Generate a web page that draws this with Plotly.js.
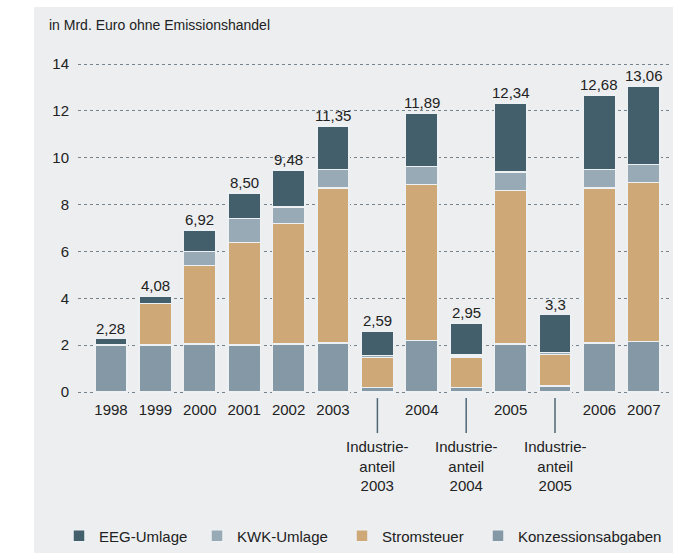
<!DOCTYPE html>
<html>
<head>
<meta charset="utf-8">
<script src="https://cdn.plot.ly/plotly-3.0.1.min.js"></script>
<style>html,body{margin:0;padding:0;background:#fff;}#chart{width:673px;height:553px;}</style>
</head>
<body>
<div id="chart"></div>
<script>
// Categories (x axis)
const categories = ["1998","1999","2000","2001","2002","2003","Industrieanteil 2003","2004","Industrieanteil 2004","2005","Industrieanteil 2005","2006","2007"];
const tickLabels = ["1998","1999","2000","2001","2002","2003","","2004","","2005","","2006","2007"];
const industrieCats = ["Industrieanteil 2003","Industrieanteil 2004","Industrieanteil 2005"];
const industrieLabels = ["Industrie-<br>anteil<br>2003","Industrie-<br>anteil<br>2004","Industrie-<br>anteil<br>2005"];

// Series values (Mrd. Euro)
const konzessionsabgaben = [2.0, 2.0, 2.05, 2.0, 2.05, 2.1, 0.2, 2.2, 0.2, 2.05, 0.25, 2.1, 2.15];
const stromsteuer        = [0, 1.78, 3.35, 4.38, 5.15, 6.6, 1.28, 6.65, 1.3, 6.55, 1.35, 6.6, 6.8];
const kwkUmlage          = [0, 0, 0.6, 1.02, 0.7, 0.8, 0.08, 0.77, 0.08, 0.8, 0.08, 0.8, 0.75];
const eegUmlage          = [0.28, 0.3, 0.92, 1.10, 1.58, 1.85, 1.03, 2.27, 1.37, 2.94, 1.62, 3.18, 3.36];
const totalLabels = ["2,28","4,08","6,92","8,50","9,48","11,35","2,59","11,89","2,95","12,34","3,3","12,68","13,06"];

const FONT = "Liberation Sans, Arial, Helvetica, sans-serif";
const TXT = "#222222";
const lineStyle = {color: "#eef1f3", width: 1.5};

function bar(name, vals, color, legendId) {
  return {type: "bar", name: name, x: categories, y: vals, legend: legendId,
    marker: {color: color, line: lineStyle}, hoverinfo: "skip"};
}
const traces = [
  bar("Konzessionsabgaben", konzessionsabgaben, "#8499a5", "legend4"),
  bar("Stromsteuer", stromsteuer, "#cea977", "legend3"),
  bar("KWK-Umlage", kwkUmlage, "#98aab5", "legend2"),
  bar("EEG-Umlage", eegUmlage, "#445f6c", "legend")
];

// category positions by serial index (category names look numeric)
const catIndex = c => categories.indexOf(c);
const totals = categories.map((c, i) => konzessionsabgaben[i] + stromsteuer[i] + kwkUmlage[i] + eegUmlage[i]);
const annotations = categories.map((c, i) => ({
  x: catIndex(c), y: totals[i], xref: "x", yref: "y", text: totalLabels[i], showarrow: false,
  yanchor: "bottom", yshift: 0, font: {family: FONT, size: 15, color: TXT}
}));
industrieCats.forEach((c, i) => annotations.push({
  x: catIndex(c), y: -0.12, xref: "x", yref: "paper", text: industrieLabels[i], showarrow: false,
  yanchor: "top", align: "center", font: {family: FONT, size: 15, color: TXT}
}));
const shapes = [{
  type: "rect", xref: "paper", yref: "paper", x0: -0.0743, x1: 1.02, y0: -0.47, y1: 1.141,
  fillcolor: "#eceef0", line: {width: 0}, layer: "below"
}];
industrieCats.forEach(c => shapes.push({
  type: "line", xref: "x", yref: "paper", x0: catIndex(c), x1: catIndex(c), y0: -0.009, y1: -0.112,
  line: {color: "#506775", width: 1.5}
}));

function legendAt(px) {
  return {orientation: "h", xref: "container", yref: "container",
    x: px/673, xanchor: "left", y: (553-536)/553, yanchor: "middle",
    bgcolor: "rgba(0,0,0,0)", font: {family: FONT, size: 15, color: TXT}};
}

const layout = {
  width: 673, height: 553,
  margin: {l: 78, r: 3, t: 55, b: 158},
  paper_bgcolor: "#ffffff", plot_bgcolor: "rgba(0,0,0,0)",
  barmode: "stack", bargap: 0.27,
  font: {family: FONT, size: 15, color: TXT},
  title: {text: "in Mrd. Euro ohne Emissionshandel", xref: "container", yref: "container",
    x: 49/673, xanchor: "left", y: 1 - 25/553, yanchor: "middle",
    font: {family: FONT, size: 14, color: TXT}},
  xaxis: {type: "category", range: [-0.743, 12.59], tickmode: "array",
    tickvals: categories, ticktext: tickLabels, showgrid: false, zeroline: false,
    showline: false, ticks: "", ticklabelstandoff: 4,
    tickfont: {family: FONT, size: 15, color: TXT}},
  yaxis: {range: [-0.128, 14.384], tickvals: [0,2,4,6,8,10,12,14],
    showgrid: true, gridcolor: "#74838d", griddash: "dot", gridwidth: 1,
    zeroline: false, showline: false, ticks: "", ticklabelstandoff: 8,
    tickfont: {family: FONT, size: 15, color: TXT}},
  showlegend: true,
  legend: legendAt(59),
  legend2: legendAt(197),
  legend3: legendAt(342),
  legend4: legendAt(478),
  annotations: annotations,
  shapes: shapes,
  hovermode: false
};

Plotly.newPlot("chart", traces, layout, {displayModeBar: false, staticPlot: true});
</script>
</body>
</html>
